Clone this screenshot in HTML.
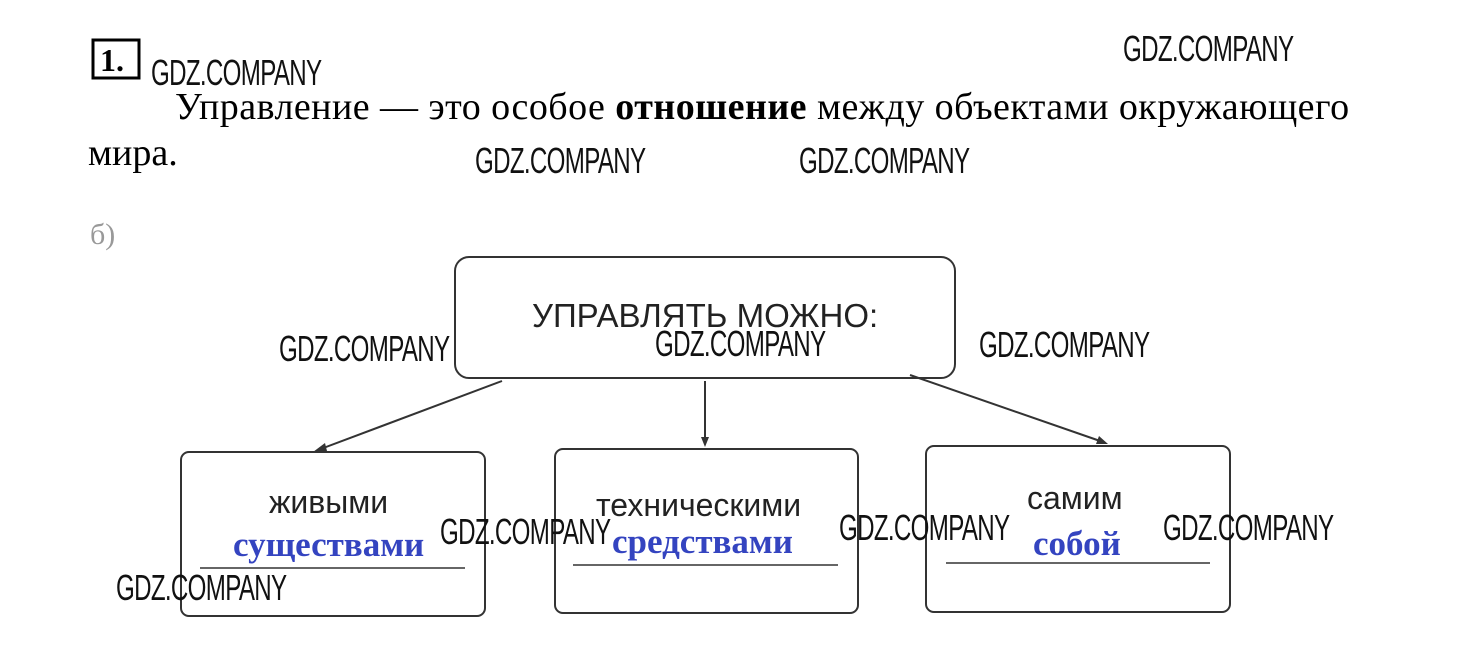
<!DOCTYPE html>
<html><head><meta charset="utf-8"><style>
body{margin:0;width:1460px;height:664px;background:#fff;position:relative;overflow:hidden;font-family:"Liberation Serif",serif}
.a{position:absolute;white-space:nowrap;line-height:1}
.wm{position:absolute;font-family:"Liberation Sans",sans-serif;font-size:36px;color:#111;transform:scaleX(0.67);transform-origin:0 0;line-height:1;letter-spacing:-1px;font-weight:normal}
.s{font-family:"Liberation Sans",sans-serif;font-size:32px;color:#222}
.b{font-family:"Liberation Serif",serif;font-weight:bold;font-size:35px;color:#3444c0}
</style></head><body>
<svg class="a" style="left:0;top:0" width="1460" height="664">
<rect x="93" y="40" width="46" height="38" fill="none" stroke="#000" stroke-width="3"/>
<g fill="none" stroke="#333" stroke-width="2">
<rect x="455" y="257" width="500" height="121" rx="14"/>
<rect x="181" y="452" width="304" height="164" rx="8"/>
<rect x="555" y="449" width="303" height="164" rx="8"/>
<rect x="926" y="446" width="304" height="166" rx="8"/>
<line x1="502" y1="381" x2="318" y2="450"/>
<line x1="705" y1="381" x2="705" y2="440"/>
<line x1="910" y1="375" x2="1103" y2="442"/>
<line x1="200" y1="568" x2="465" y2="568" stroke-width="1.5"/>
<line x1="573" y1="565" x2="838" y2="565" stroke-width="1.5"/>
<line x1="946" y1="563" x2="1210" y2="563" stroke-width="1.5"/>
</g>
<g fill="#333"><polygon points="313,452 325,443 327,451"/><polygon points="705,447 701,437 709,437"/><polygon points="1108,444 1096,444 1099,436"/></g>
</svg>
<div class="a" style="left:100px;top:44px;font-size:32px;font-weight:bold">1.</div>
<div class="a" style="left:175px;top:88px;font-size:38px;letter-spacing:0.45px">Управление — это особое <b>отношение</b> между объектами окружающего</div>
<div class="a" style="left:88px;top:134px;font-size:38px">мира.</div>
<div class="a" style="left:90px;top:220px;font-size:30px;color:#999">б)</div>
<div class="a s" style="left:532px;top:299px;font-size:33px">УПРАВЛЯТЬ МОЖНО:</div>
<div class="a s" style="left:269px;top:486px">живыми</div>
<div class="a s" style="left:596px;top:489px">техническими</div>
<div class="a s" style="left:1027px;top:482px">самим</div>
<div class="a b" style="left:233px;top:527px">существами</div>
<div class="a b" style="left:612px;top:524px">средствами</div>
<div class="a b" style="left:1033px;top:526px">собой</div>
<div class="wm" style="left:151px;top:55px">GDZ.COMPANY</div>
<div class="wm" style="left:1123px;top:31px">GDZ.COMPANY</div>
<div class="wm" style="left:475px;top:143px">GDZ.COMPANY</div>
<div class="wm" style="left:799px;top:143px">GDZ.COMPANY</div>
<div class="wm" style="left:279px;top:331px">GDZ.COMPANY</div>
<div class="wm" style="left:655px;top:326px">GDZ.COMPANY</div>
<div class="wm" style="left:979px;top:327px">GDZ.COMPANY</div>
<div class="wm" style="left:440px;top:514px">GDZ.COMPANY</div>
<div class="wm" style="left:839px;top:510px">GDZ.COMPANY</div>
<div class="wm" style="left:1163px;top:510px">GDZ.COMPANY</div>
<div class="wm" style="left:116px;top:570px">GDZ.COMPANY</div>
</body></html>
